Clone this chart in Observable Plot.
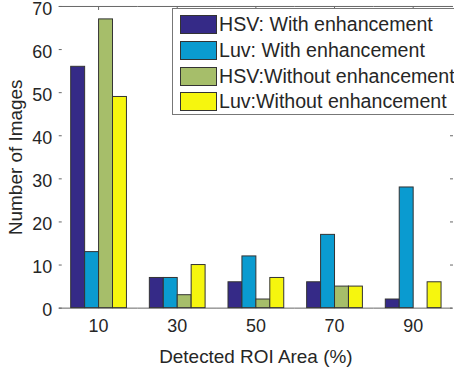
<!DOCTYPE html>
<html><head><meta charset="utf-8">
<script src="https://cdn.jsdelivr.net/npm/d3@7"></script>
<script src="https://cdn.jsdelivr.net/npm/@observablehq/plot@0.6"></script>
<style>
body{margin:0;background:#fff;}
#wrap{position:relative;width:454px;height:371px;overflow:hidden;font-family:"Liberation Sans",Arial,sans-serif;}
#legend{position:absolute;left:172px;top:8px;width:290px;height:107px;border:1px solid #777;background:#fff;box-sizing:border-box;padding-top:3px;}
.row{display:flex;align-items:center;height:25.7px;}
.sw{width:37px;height:19px;border:1px solid #333;box-sizing:border-box;margin-left:7px;margin-right:2px;flex:none;}
.lab{font-size:19.6px;color:#262626;white-space:nowrap;}
</style></head><body><div id="wrap"></div>
<script>
const categories = ["10", "30", "50", "70", "90"];
const seriesNames = ["HSV: With enhancement", "Luv: With enhancement", "HSV:Without enhancement", "Luv:Without enhancement"];
const hsvWith = [56, 7, 6, 6, 2];
const luvWith = [13, 7, 12, 17, 28];
const hsvWithout = [67, 3, 2, 5, 0];
const luvWithout = [49, 10, 7, 5, 6];
const colors = ["#352a87", "#0a9bd0", "#a6be6a", "#f6f60e"];
const yTicks = [0, 10, 20, 30, 40, 50, 60, 70];

const seriesValues = [hsvWith, luvWith, hsvWithout, luvWithout];
const data = [];
categories.forEach((c, i) => seriesNames.forEach((s, j) => data.push({cat: c, series: s, value: seriesValues[j][i]})));

const chart = Plot.plot({
  width: 456, height: 371,
  marginLeft: 57, marginRight: 1, marginTop: 6, marginBottom: 62,
  style: {fontFamily: "Liberation Sans, Arial, sans-serif", fontSize: "19px", color: "#262626", background: "#fff"},
  fx: {domain: categories, padding: 0},
  x: {domain: seriesNames, paddingInner: 0, paddingOuter: 0.745, axis: null},
  y: {domain: [0, 70]},
  color: {domain: seriesNames, range: colors},
  marks: [
    Plot.ruleY([0, 70], {stroke: "#666"}),
    Plot.barY(data, {fx: "cat", x: "series", y: "value", fill: "series", stroke: "#333", strokeWidth: 1, filter: d => d.value > 0}),
    Plot.axisY({ticks: yTicks, tickSize: 0, tickPadding: 7, fontSize: 18, dy: 2.5, label: null, line: true, stroke: "#666"}),
    Plot.axisY({ticks: yTicks, tickSize: -3, tickFormat: () => "", label: null, stroke: "#666"}),
    Plot.axisY({ticks: yTicks, tickSize: 0, tickFormat: () => "", dy: -5, label: "Number of Images", labelAnchor: "center", labelArrow: "none", labelOffset: 51}),
    Plot.axisY({anchor: "right", ticks: yTicks, tickSize: -3, tickFormat: () => "", label: null, stroke: "#666"}),
    Plot.axisFx({anchor: "bottom", tickSize: 0, tickPadding: 11, fontSize: 18, label: null}),
    Plot.axisFx({anchor: "top", tickSize: -3, tickFormat: () => "", stroke: "#666", label: null}),
    Plot.axisFx({anchor: "bottom", tickSize: 0, tickFormat: () => "", label: "Detected ROI Area (%)", labelAnchor: "center", labelArrow: "none", labelOffset: 55})
  ]
});
const wrap = document.getElementById("wrap");
wrap.appendChild(chart);
const legend = document.createElement("div");
legend.id = "legend";
seriesNames.forEach((s, j) => {
  const row = document.createElement("div");
  row.className = "row";
  const sw = document.createElement("div");
  sw.className = "sw";
  sw.style.background = colors[j];
  const lab = document.createElement("span");
  lab.className = "lab";
  lab.textContent = s;
  row.appendChild(sw); row.appendChild(lab);
  legend.appendChild(row);
});
wrap.appendChild(legend);
</script>
</body></html>
